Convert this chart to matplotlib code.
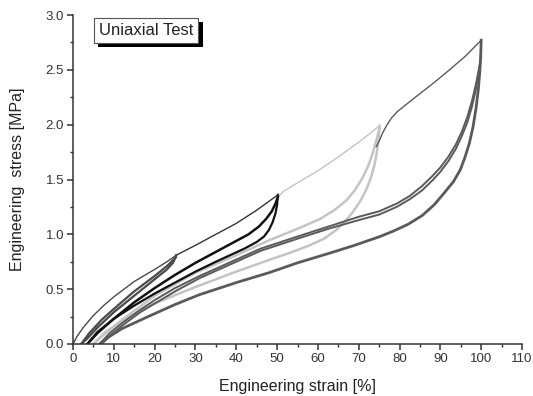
import numpy as np
import matplotlib
matplotlib.use('Agg')
import matplotlib.pyplot as plt
import matplotlib.patheffects as pe
from matplotlib.ticker import MultipleLocator, FormatStrFormatter

plt.rcParams['font.family'] = ['Liberation Sans', 'DejaVu Sans']

# Cycle to 25 % strain
virgin25_x = [0, 1, 2.5, 5, 7.5, 10, 15, 20, 23, 25.3]
virgin25_y = [0, 0.07, 0.15, 0.26, 0.35, 0.43, 0.57, 0.68, 0.75, 0.81]
unload25_x = [25.3, 24.5, 23, 20, 15, 10, 6, 3.5, 2]
unload25_y = [0.81, 0.74, 0.68, 0.59, 0.44, 0.29, 0.15, 0.05, 0]
reload25_x = [2, 4, 7, 10, 15, 20, 23, 25.2]
reload25_y = [0, 0.1, 0.22, 0.32, 0.48, 0.62, 0.71, 0.79]

# Cycle to 50 % strain
virgin50_x = [25.3, 30, 35, 40, 45, 50.2]
virgin50_y = [0.81, 0.90, 1.00, 1.10, 1.22, 1.36]
unload50_x = [50.2, 50, 49.6, 48.9, 48, 46.8, 45, 42, 35, 30, 25, 20, 15, 10, 6, 3.5]
unload50_y = [1.36, 1.27, 1.19, 1.11, 1.04, 0.98, 0.93, 0.87, 0.75, 0.66, 0.56, 0.46, 0.35, 0.23, 0.11, 0]
reload50_x = [3.5, 6, 10, 15, 20, 25, 30, 35, 40, 43, 45.5, 47.3, 48.7, 49.6, 50.2]
reload50_y = [0, 0.1, 0.23, 0.38, 0.51, 0.63, 0.74, 0.84, 0.94, 1.00, 1.07, 1.14, 1.21, 1.28, 1.34]

# Cycle to 75 % strain
virgin75_x = [50.2, 51.5, 55, 60, 64, 70, 75.1]
virgin75_y = [1.34, 1.39, 1.47, 1.58, 1.68, 1.84, 1.99]
unload75_x = [75.1, 74.9, 74.5, 73.9, 73.1, 72, 70.5, 68.5, 66.5, 64.5, 61.5, 58, 53, 48.3,
              40, 30, 20, 12, 8, 5]
unload75_y = [1.99, 1.88, 1.76, 1.64, 1.53, 1.42, 1.31, 1.20, 1.11, 1.04, 0.96, 0.90, 0.83, 0.77,
              0.66, 0.52, 0.37, 0.21, 0.11, 0]
reload75_x = [5, 8, 12, 20, 30, 40, 48.3, 55, 60.5, 64, 67, 69.2, 71, 72.4, 73.5, 74.4, 75.1]
reload75_y = [0, 0.1, 0.22, 0.44, 0.65, 0.81, 0.95, 1.05, 1.14, 1.22, 1.31, 1.41, 1.52, 1.63,
              1.75, 1.87, 1.97]

# Cycle to 100 % strain
virgin100_x = [74.3, 75.0, 75.8, 76.8, 78.0, 79.5, 81.5, 84.2, 88, 91.6, 96, 100]
virgin100_y = [1.80, 1.85, 1.92, 1.99, 2.06, 2.12, 2.18, 2.26, 2.37, 2.48, 2.62, 2.77]
unload100_x = [100, 99.9, 99.7, 99.3, 98.7, 98.0, 97.1, 96, 94.9, 93.2, 91, 88.5, 85.5, 82,
               78.5, 75.2, 69, 63, 55, 48, 40, 31, 25, 19, 12, 9, 6.5]
unload100_y = [2.77, 2.65, 2.50, 2.32, 2.14, 1.98, 1.83, 1.70, 1.59, 1.48, 1.38, 1.27, 1.17, 1.09,
               1.03, 0.98, 0.90, 0.83, 0.74, 0.65, 0.56, 0.45, 0.36, 0.26, 0.14, 0.07, 0]
reload100_x = [6.5, 9, 12, 16, 20, 25, 31, 40, 46, 55, 62.5, 70, 75, 79.3, 82.5, 85.5, 88, 90,
               92, 93.8, 95.3, 96.6, 97.7, 98.6, 99.3, 100]
reload100_y = [0, 0.1, 0.19, 0.30, 0.40, 0.51, 0.62, 0.77, 0.87, 0.98, 1.07, 1.16, 1.21, 1.28,
               1.35, 1.44, 1.53, 1.61, 1.71, 1.82, 1.94, 2.07, 2.21, 2.35, 2.48, 2.62]
reload100b_x = [7, 9.5, 12.5, 16.5, 20.5, 25.5, 31, 40, 46, 55, 62.5, 70, 75, 79.3, 82.5, 85.5,
                88, 90, 92, 93.8, 95.3, 96.6, 97.7, 98.6, 99.6]
reload100b_y = [0, 0.09, 0.18, 0.29, 0.38, 0.49, 0.60, 0.75, 0.85, 0.96, 1.05, 1.13, 1.18, 1.25,
                1.32, 1.40, 1.49, 1.57, 1.67, 1.78, 1.90, 2.02, 2.16, 2.30, 2.52]

c25 = '#4a4a4a'
c50 = '#111111'
c75 = '#c4c4c4'
c100 = '#5a5a5a'

fig = plt.figure(figsize=(5.33, 3.96), dpi=100)
ax = fig.add_axes([73 / 533, 52 / 396, 449 / 533, 329 / 396])

# light gray drawn first so darker loops sit on top where they cross
ax.plot(unload75_x, unload75_y, color=c75, lw=1.8)
ax.plot(reload75_x, reload75_y, color=c75, lw=1.8)
ax.plot(virgin75_x, virgin75_y, color=c75, lw=1.0)

ax.plot(unload100_x, unload100_y, color=c100, lw=2.0)
ax.plot(reload100_x, reload100_y, color=c100, lw=1.4)
ax.plot(reload100b_x, reload100b_y, color=c100, lw=1.4)
ax.plot(virgin100_x, virgin100_y, color=c100, lw=1.0)

ax.plot(unload50_x, unload50_y, color=c50, lw=1.6)
ax.plot(reload50_x, reload50_y, color=c50, lw=1.8)
ax.plot(virgin50_x, virgin50_y, color='#333333', lw=1.0)

ax.plot(unload25_x, unload25_y, color=c25, lw=1.6)
ax.plot(reload25_x, reload25_y, color=c25, lw=1.6)
ax.plot(virgin25_x, virgin25_y, color=c25, lw=1.0)

ax.set_xlim(0, 110)
ax.set_ylim(0, 3.0)
ax.xaxis.set_major_locator(MultipleLocator(10))
ax.xaxis.set_minor_locator(MultipleLocator(5))
ax.yaxis.set_major_locator(MultipleLocator(0.5))
ax.yaxis.set_minor_locator(MultipleLocator(0.25))
ax.yaxis.set_major_formatter(FormatStrFormatter('%.1f'))

for side in ['top', 'right']:
    ax.spines[side].set_visible(False)
for side in ['left', 'bottom']:
    ax.spines[side].set_linewidth(1.1)
    ax.spines[side].set_color('#333333')

ax.tick_params(which='major', direction='out', length=4.5, width=1.1,
               labelsize=9.5, colors='#333333', pad=2)
ax.tick_params(which='minor', direction='out', length=2.5, width=1.0, colors='#333333')

ax.set_xlabel('Engineering strain [%]', fontsize=11.5, color='#222222', labelpad=10)
ax.set_ylabel('Engineering  stress [MPa]', fontsize=11.5, color='#222222', labelpad=15)

t = ax.text(0.163, 0.954, 'Uniaxial Test', transform=ax.transAxes, ha='center', va='center',
            fontsize=12, color='#222222',
            bbox=dict(boxstyle='square,pad=0.3', fc='white', ec='#555555', lw=0.8))
t.get_bbox_patch().set_path_effects([
    pe.SimplePatchShadow(offset=(3, -3), shadow_rgbFace='black', alpha=1.0),
    pe.Normal()])

fig.savefig('out.png', dpi=100)
